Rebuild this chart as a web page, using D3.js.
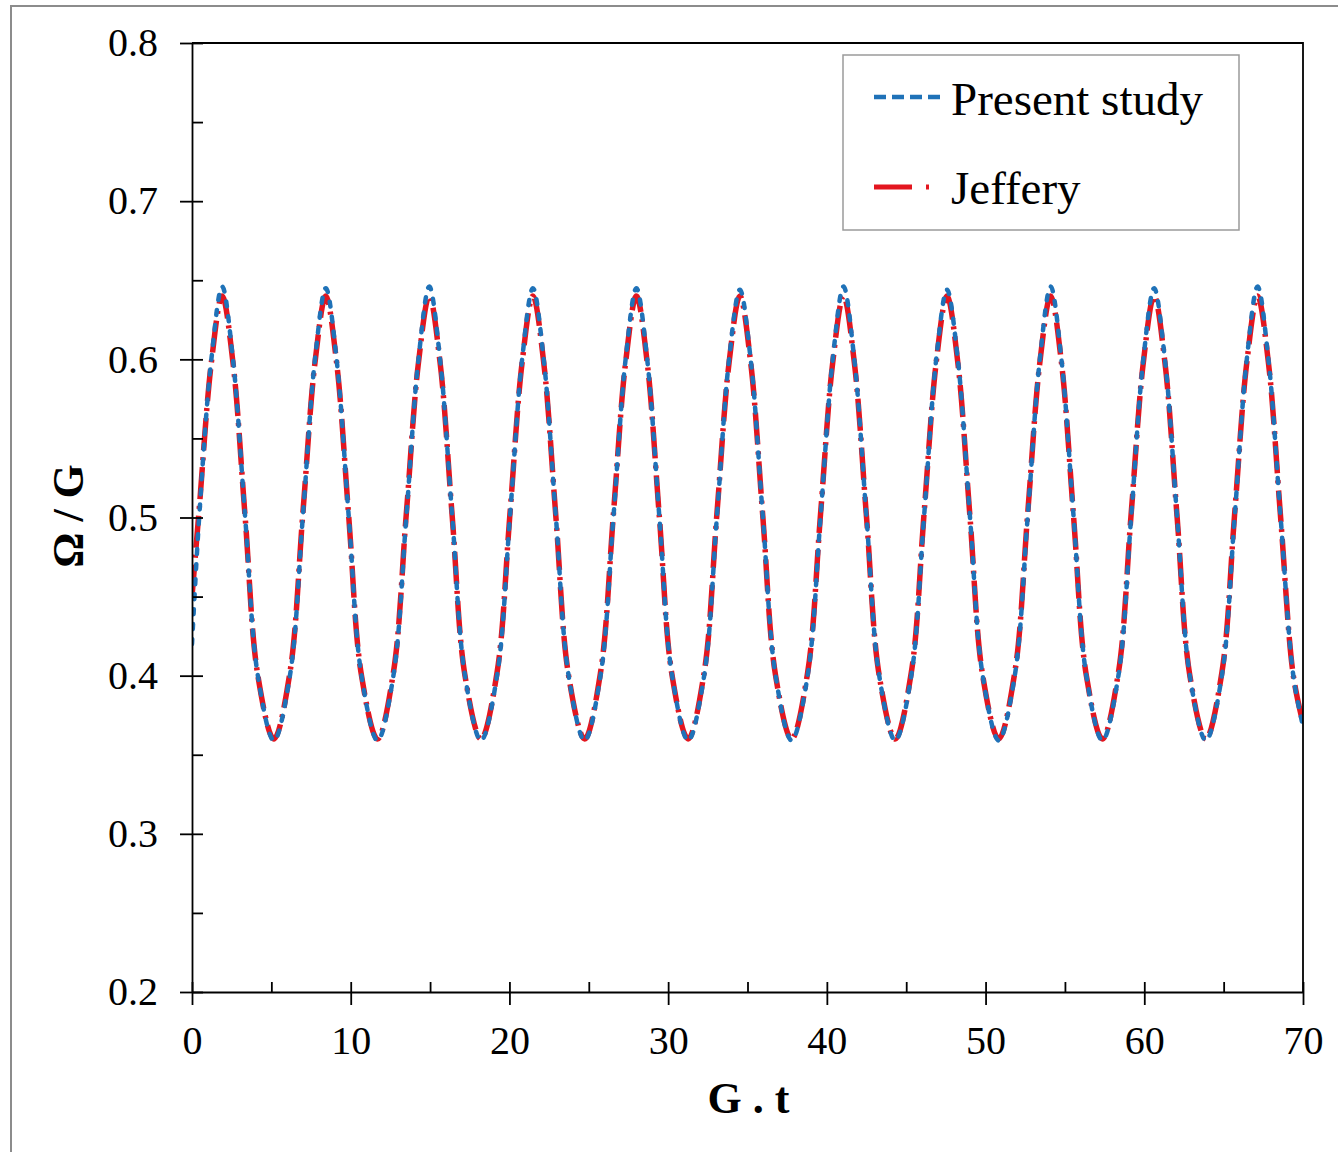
<!DOCTYPE html>
<html>
<head>
<meta charset="utf-8">
<script src="https://cdn.jsdelivr.net/npm/d3@7"></script>
<style>
  body { margin: 0; background: #fff; }
  text { font-family: "Liberation Serif", "Times New Roman", serif; fill: #000; }
</style>
</head>
<body>
<script>
// G.t sample times (peaks, 0.6 / 0.5 / 0.4 crossings, troughs)
var timeGt = [
  0.00, 0.45, 1.22, 1.90, 2.58, 3.35, 4.15, 5.16,
  6.17, 6.98, 7.75, 8.43, 9.11, 9.88, 10.68, 11.69,
  12.69, 13.50, 14.27, 14.95, 15.63, 16.40, 17.20, 18.21,
  19.22, 20.03, 20.80, 21.48, 22.16, 22.93, 23.73, 24.74,
  25.74, 26.55, 27.32, 28.00, 28.68, 29.45, 30.25, 31.26,
  32.27, 33.07, 33.84, 34.52, 35.20, 35.97, 36.77, 37.78,
  38.79, 39.60, 40.37, 41.05, 41.73, 42.50, 43.30, 44.31,
  45.32, 46.12, 46.89, 47.57, 48.25, 49.02, 49.82, 50.83,
  51.84, 52.65, 53.42, 54.10, 54.78, 55.55, 56.35, 57.36,
  58.37, 59.17, 59.94, 60.62, 61.30, 62.07, 62.87, 63.88,
  64.89, 65.69, 66.46, 67.14, 67.82, 68.59, 69.39, 70.00
];

// Omega / G, present study (blue)
var presentStudy = [
  0.420, 0.500, 0.600, 0.646, 0.600, 0.500, 0.400, 0.359,
  0.400, 0.500, 0.600, 0.645, 0.600, 0.500, 0.400, 0.359,
  0.400, 0.500, 0.600, 0.646, 0.600, 0.500, 0.400, 0.359,
  0.400, 0.500, 0.600, 0.645, 0.600, 0.500, 0.400, 0.359,
  0.400, 0.500, 0.600, 0.645, 0.600, 0.500, 0.400, 0.359,
  0.400, 0.500, 0.600, 0.644, 0.600, 0.500, 0.400, 0.359,
  0.400, 0.500, 0.600, 0.646, 0.600, 0.500, 0.400, 0.359,
  0.400, 0.500, 0.600, 0.644, 0.600, 0.500, 0.400, 0.359,
  0.400, 0.500, 0.600, 0.646, 0.600, 0.500, 0.400, 0.359,
  0.400, 0.500, 0.600, 0.645, 0.600, 0.500, 0.400, 0.359,
  0.400, 0.500, 0.600, 0.646, 0.600, 0.500, 0.400, 0.368
];

// Omega / G, Jeffery (red)
var jeffery = [
  0.450, 0.505, 0.598, 0.640, 0.598, 0.500, 0.400, 0.360,
  0.402, 0.502, 0.598, 0.640, 0.598, 0.500, 0.400, 0.360,
  0.402, 0.502, 0.598, 0.640, 0.598, 0.500, 0.400, 0.360,
  0.402, 0.502, 0.598, 0.640, 0.598, 0.500, 0.400, 0.360,
  0.402, 0.502, 0.598, 0.640, 0.598, 0.500, 0.400, 0.360,
  0.402, 0.502, 0.598, 0.640, 0.598, 0.500, 0.400, 0.360,
  0.402, 0.502, 0.598, 0.640, 0.598, 0.500, 0.400, 0.360,
  0.402, 0.502, 0.598, 0.640, 0.598, 0.500, 0.400, 0.360,
  0.402, 0.502, 0.598, 0.640, 0.598, 0.500, 0.400, 0.360,
  0.402, 0.502, 0.598, 0.640, 0.598, 0.500, 0.400, 0.360,
  0.402, 0.502, 0.598, 0.640, 0.598, 0.500, 0.400, 0.370
];

var xTicks = [0, 10, 20, 30, 40, 50, 60, 70];
var xMinor = [0, 5, 10, 15, 20, 25, 30, 35, 40, 45, 50, 55, 60, 65, 70];
var yTicks = [0.2, 0.3, 0.4, 0.5, 0.6, 0.7, 0.8];
var yMinor = [0.2, 0.25, 0.3, 0.35, 0.4, 0.45, 0.5, 0.55, 0.6, 0.65, 0.7, 0.75, 0.8];
var legendNames = ["Present study", "Jeffery"];

/***** setup *****/
var width = 1338,
    height = 1152;
var plotLeft = 192, plotRight = 1303, plotTop = 43, plotBottom = 992;

var svg = d3.select("body").append("svg")
    .attr("width", width)
    .attr("height", height);

// outer grey frame
svg.append("rect")
    .attr("x", 11).attr("y", 6)
    .attr("width", width).attr("height", height)
    .attr("fill", "none")
    .attr("stroke", "#8c8c8c")
    .attr("stroke-width", 2);

var x = d3.scaleLinear().domain([0, 70]).range([plotLeft, plotRight]);
var y = d3.scaleLinear().domain([0.2, 0.8]).range([plotBottom, plotTop]);

svg.append("clipPath").attr("id", "plot")
  .append("rect")
    .attr("x", plotLeft).attr("y", plotTop)
    .attr("width", plotRight - plotLeft).attr("height", plotBottom - plotTop);

var line = d3.line()
    .x(function(d) { return x(d[0]); })
    .y(function(d) { return y(d[1]); })
    .curve(d3.curveCatmullRom.alpha(0.5));

var jefferyPts = timeGt.map(function(t, i) { return [t, jeffery[i]]; });
var presentPts = timeGt.map(function(t, i) { return [t, presentStudy[i]]; });

var plot = svg.append("g").attr("clip-path", "url(#plot)");

plot.append("path")
    .datum(jefferyPts)
    .attr("d", line)
    .attr("fill", "none")
    .attr("stroke", "#e3161f")
    .attr("stroke-width", 5.5)
    .attr("stroke-dasharray", "32,7,3,7");

plot.append("path")
    .datum(presentPts)
    .attr("d", line)
    .attr("fill", "none")
    .attr("stroke", "#1f72b8")
    .attr("stroke-width", 4.5)
    .attr("stroke-linecap", "round")
    .attr("stroke-dasharray", "5,10");

// axes
svg.append("g")
    .attr("transform", "translate(0," + plotBottom + ")")
    .call(d3.axisBottom(x).tickValues(xTicks).tickSize(13).tickSizeOuter(0).tickPadding(21));

var gxIn = svg.append("g")
    .attr("transform", "translate(0," + plotBottom + ")")
    .call(d3.axisTop(x).tickValues(xMinor).tickSize(10).tickFormat(""));
gxIn.select(".domain").remove();

svg.append("g")
    .attr("transform", "translate(" + plotLeft + ",0)")
    .call(d3.axisLeft(y).tickValues(yTicks).tickFormat(d3.format(".1f"))
      .tickSize(12).tickSizeOuter(0).tickPadding(22));

var gyIn = svg.append("g")
    .attr("transform", "translate(" + plotLeft + ",0)")
    .call(d3.axisRight(y).tickValues(yMinor).tickSize(11).tickFormat(""));
gyIn.select(".domain").remove();

svg.selectAll(".tick line, .domain")
    .attr("stroke", "#000")
    .attr("stroke-width", 1.8);

svg.selectAll(".tick text")
    .style("font-family", "'Liberation Serif', serif")
    .style("font-size", "40px");

// top and right frame
svg.append("path")
    .attr("d", "M" + plotLeft + "," + plotTop + "H" + plotRight + "V" + plotBottom)
    .attr("fill", "none")
    .attr("stroke", "#000")
    .attr("stroke-width", 1.8);

// axis titles
svg.append("text")
    .attr("x", (plotLeft + plotRight) / 2 + 1)
    .attr("y", 1113)
    .attr("text-anchor", "middle")
    .style("font-size", "44px")
    .style("font-weight", "bold")
    .text("G . t");

svg.append("text")
    .attr("transform", "translate(83,516) rotate(-90)")
    .attr("text-anchor", "middle")
    .style("font-size", "44px")
    .style("font-weight", "bold")
    .text("Ω / G");

// legend
var legend = svg.append("g");
legend.append("rect")
    .attr("x", 843).attr("y", 55)
    .attr("width", 396).attr("height", 175)
    .attr("fill", "#fff")
    .attr("stroke", "#9a9a9a")
    .attr("stroke-width", 1.5);

legend.append("line")
    .attr("x1", 874).attr("x2", 946).attr("y1", 97).attr("y2", 97)
    .attr("stroke", "#1f72b8").attr("stroke-width", 4.5)
    .attr("stroke-dasharray", "12,6");

legend.append("line")
    .attr("x1", 874).attr("x2", 932).attr("y1", 187).attr("y2", 187)
    .attr("stroke", "#e3161f").attr("stroke-width", 5)
    .attr("stroke-dasharray", "38,14,3,20");

legend.selectAll("text.lab")
    .data(legendNames)
    .enter()
    .append("text")
    .attr("class", "lab")
    .attr("x", 951)
    .attr("y", function(d, i) { return 115 + i * 89; })
    .style("font-size", "47px")
    .text(function(d) { return d; });
</script>
</body>
</html>
